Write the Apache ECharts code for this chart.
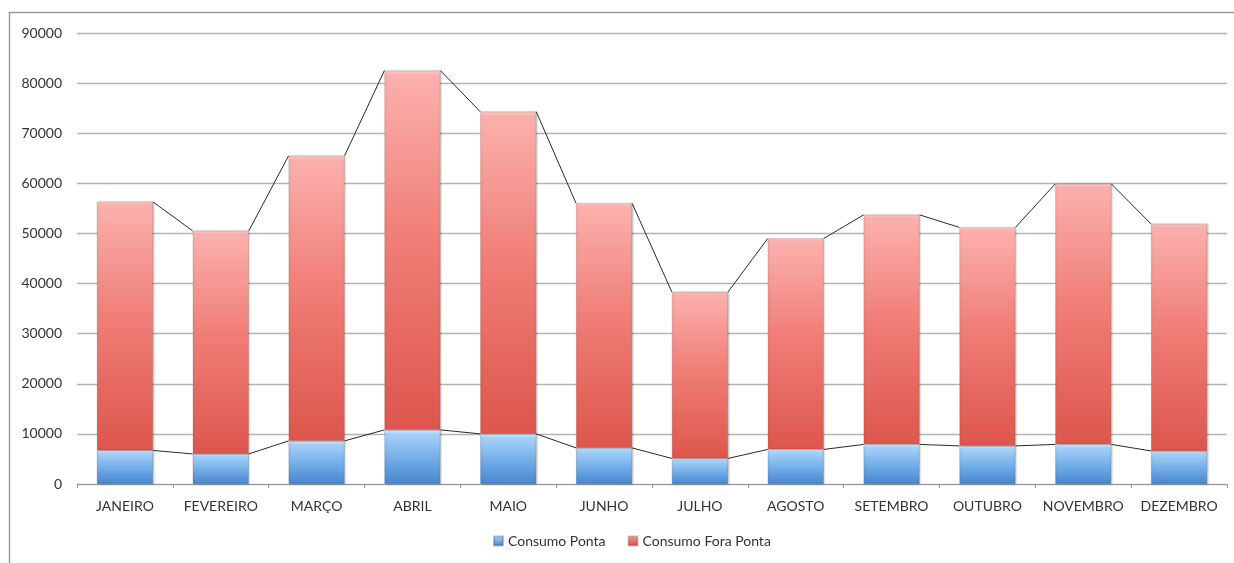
<!DOCTYPE html>
<html>
<head>
<meta charset="utf-8">
<script src="https://cdn.jsdelivr.net/npm/echarts@6/dist/echarts.min.js"></script>
<style>
  html, body { margin: 0; padding: 0; background: #fff; }
  #chart { width: 1234px; height: 563px; }
</style>
</head>
<body>
<div id="chart"></div>
<script>
// Monthly energy consumption: peak (Ponta) and off-peak (Fora Ponta), stacked
const months = ['JANEIRO', 'FEVEREIRO', 'MARÇO', 'ABRIL', 'MAIO', 'JUNHO',
  'JULHO', 'AGOSTO', 'SETEMBRO', 'OUTUBRO', 'NOVEMBRO', 'DEZEMBRO'];
const consumoPonta = [6700, 6000, 8600, 10800, 10000, 7200, 5100, 6900, 7900, 7600, 7900, 6600];
const consumoForaPonta = [49600, 44500, 56900, 71700, 64300, 48800, 33200, 42100, 45800, 43600, 52000, 45300];
const yTicks = { min: 0, max: 90000, interval: 10000 };

const BAR_W = 56;
const FONT = 'Lato, "Open Sans", sans-serif';

const totals = consumoPonta.map((v, i) => v + consumoForaPonta[i]);

function grad(stops) {
  return new echarts.graphic.LinearGradient(0, 0, 0, 1,
    stops.map(([offset, color]) => ({ offset, color })));
}

// Connector lines between adjacent bar tops (right edge -> next left edge)
function seriesLines(values, name) {
  const pairs = [];
  for (let i = 0; i < values.length - 1; i++) pairs.push([i, values[i], values[i + 1]]);
  return {
    type: 'custom',
    name: name,
    z: 5,
    silent: true,
    renderItem: function (params, api) {
      const i = api.value(0);
      const a = api.coord([i, api.value(1)]);
      const b = api.coord([i + 1, api.value(2)]);
      return {
        type: 'line',
        shape: { x1: a[0] + BAR_W / 2, y1: a[1], x2: b[0] - BAR_W / 2, y2: b[1] },
        style: { stroke: '#2a2a2a', lineWidth: 1 }
      };
    },
    encode: { x: 0, y: 1 },
    data: pairs
  };
}

const chart = echarts.init(document.getElementById('chart'));
chart.setOption({
  animation: false,
  backgroundColor: '#ffffff',
  graphic: [{
    type: 'rect',
    shape: { x: 9.5, y: 12.5, width: 1300, height: 700 },
    style: { fill: 'none', stroke: '#9a9a9a', lineWidth: 1.5 },
    silent: true,
    z: -1
  }],
  grid: { left: 77, right: 7, top: 33, bottom: 79, containLabel: false },
  legend: {
    bottom: 10,
    left: 488,
    itemWidth: 9,
    itemHeight: 9,
    itemGap: 22,
    textStyle: { fontFamily: FONT, fontSize: 14, color: '#333' },
    data: [
      { name: 'Consumo Ponta', icon: 'rect', itemStyle: { color: grad([[0, '#b8dcf9'], [1, '#3f7fc8']]) } },
      { name: 'Consumo Fora Ponta', icon: 'rect', itemStyle: { color: grad([[0, '#f7a09c'], [1, '#d9443c']]) } }
    ]
  },
  xAxis: {
    type: 'category',
    data: months,
    axisLine: { lineStyle: { color: '#9a9a9a', width: 1 } },
    axisTick: { show: true, length: 4, lineStyle: { color: '#9a9a9a' } },
    axisLabel: { interval: 0, fontFamily: FONT, fontSize: 14, color: '#333', margin: 15 }
  },
  yAxis: {
    type: 'value',
    min: yTicks.min,
    max: yTicks.max,
    interval: yTicks.interval,
    axisLine: { show: false },
    axisTick: { show: false },
    axisLabel: {
      fontFamily: FONT, fontSize: 14, color: '#333', margin: 15,
      formatter: v => String(v)
    },
    splitLine: { lineStyle: { color: '#b4b4b4', width: 1.3 } }
  },
  series: [
    {
      name: 'Consumo Ponta',
      type: 'bar',
      stack: 'consumo',
      barWidth: BAR_W,
      data: consumoPonta,
      itemStyle: {
        color: grad([[0, '#e6f3fe'], [0.07, '#a6d1f7'], [0.5, '#76b0ea'], [1, '#4786cf']]),
        borderColor: 'rgba(40,80,130,0.35)',
        borderWidth: 0.6,
        shadowColor: 'rgba(0,0,0,0.25)',
        shadowBlur: 2,
        shadowOffsetX: 1
      }
    },
    {
      name: 'Consumo Fora Ponta',
      type: 'bar',
      stack: 'consumo',
      barWidth: BAR_W,
      data: consumoForaPonta,
      itemStyle: {
        color: grad([[0, '#fdd0ce'], [0.012, '#fbb0ad'], [0.45, '#f07f78'], [1, '#dd564c']]),
        borderColor: 'rgba(140,50,45,0.3)',
        borderWidth: 0.6,
        shadowColor: 'rgba(0,0,0,0.25)',
        shadowBlur: 2,
        shadowOffsetX: 1
      }
    },
    seriesLines(consumoPonta, 'linhaPonta'),
    seriesLines(totals, 'linhaTotal')
  ]
});
</script>
</body>
</html>
